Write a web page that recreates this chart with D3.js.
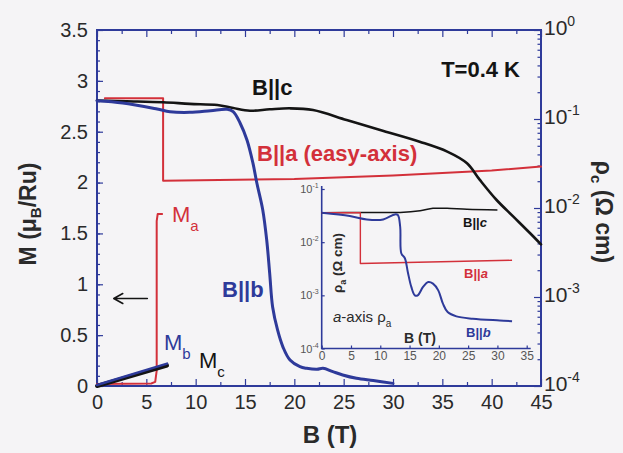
<!DOCTYPE html>
<html lang="en">
<head>
<meta charset="UTF-8">
<title>Magnetization and c-axis resistivity vs field</title>
<script src="https://cdnjs.cloudflare.com/ajax/libs/d3/7.8.5/d3.min.js"></script>
<style>
    body {
        margin: 0;
        background: #f5f4f6;
        font-family: Arial, "Liberation Sans", sans-serif;
        overflow: hidden;
    }
    svg { display: block; }
</style>
</head>
<body>
<svg id="chart" width="623" height="453"></svg>
<script>
// main panel: rho_c (Ohm cm) against B (T), right log axis
const rhoC_Bc = [[0,0.161],[3,0.158],[6.7,0.154],[9.4,0.148],[12.2,0.1435],[13.8,0.133],[15.5,0.124],
    [17.5,0.1285],[19.6,0.1318],[21.9,0.126],[25.3,0.0975],[28.7,0.0752],[32.7,0.0556],[35.5,0.043],
    [37.5,0.0318],[38.8,0.0207],[40.5,0.0123],[42.2,0.008],[43.9,0.0052],[45,0.0039]];
const rhoC_Ba = [[0.8,0.171],[6.7,0.171],[6.7,0.0203],[20,0.0212],[30,0.0232],[40,0.0264],[45,0.0292]];
const rhoC_Bb = [[0,0.1607],[2.6,0.1514],[6.1,0.1294],[7.4,0.1208],[9.4,0.1189],[11.5,0.1239],[13.2,0.1285],
    [13.8,0.1208],[14.5,0.0902],[15.2,0.0581],[15.8,0.0321],[16.2,0.0191],[16.8,0.00951],[17.2,0.00437],
    [17.5,0.00186],[17.8,0.000773],[18.3,0.000426],[18.85,0.000274],[19.56,0.000196],[20.57,0.000165],
    [21.25,0.000158],[22.3,0.000154],[22.9,0.000158],[23.9,0.000145],[24.9,0.000133],[26.3,0.000122],
    [28.0,0.000115],[30.0,0.000107]];

// magnetization (muB/Ru) against B (T), left axis
const magA = [[0,0.02],[5.5,0.025],[5.9,0.04],[6.05,0.15],[6.05,1.62],[6.15,1.69],[6.6,1.69]];
const magB = [[0,0.01],[7.1,0.22]];
const magC = [[0,0],[7.1,0.2]];

// inset: rho_a (Ohm cm) against B (T)
const rhoA_Bc = [[0,0.0357],[6.5,0.0363],[13.4,0.0363],[16.8,0.039],[19,0.0433],[21.4,0.0433],[24.8,0.0414],[30,0.0402]];
const rhoA_Ba = [[0,0.0357],[6.6,0.0357],[6.6,0.00396],[32.5,0.00457]];
const rhoA_Bb = [[0,0.0357],[4.8,0.031],[7.7,0.0268],[10.5,0.0268],[12.5,0.0333],[13.0,0.0324],[13.4,0.0195],
    [13.6,0.00612],[14.2,0.00499],[14.7,0.00275],[15.3,0.00144],[15.9,0.001],[16.4,0.001],[17.3,0.00144],
    [18.2,0.00178],[19.0,0.00166],[19.9,0.00124],[20.7,0.000697],[21.5,0.000484],[23.0,0.000402],
    [25.8,0.000363],[30.4,0.000337],[32.5,0.000327]];

// ticks
const bTicks = d3.range(0, 46, 5);
const mTicks = d3.range(0, 3.51, 0.5);
const rhoTicks = [1, 0.1, 0.01, 0.001, 0.0001];
const rhoExp = ["0", "-1", "-2", "-3", "-4"];
const insetBTicks = d3.range(0, 36, 5);
const insetRhoTicks = [0.1, 0.01, 0.001, 0.0001];
const insetRhoExp = ["-1", "-2", "-3", "-4"];

const blue = "#2e3a9a", red = "#d3303a", black = "#141414", grey = "#2a2a2a";

const svg = d3.select("#chart");
const box = { left: 97, top: 30, right: 541, bottom: 386 };

const x = d3.scaleLinear().domain([0, 45]).range([box.left, box.right]);
const yM = d3.scaleLinear().domain([0, 3.5]).range([box.bottom, box.top]);
const yR = d3.scaleLog().domain([1e-4, 1]).range([box.bottom, box.top]);

// minor tick helpers
function logMinor(lo, hi) {
    const out = [];
    for (let e = lo; e < hi; e++) for (let k = 2; k <= 9; k++) out.push(k * Math.pow(10, e));
    return out;
}

function styleAxis(g, color) {
    g.select(".domain").remove();
    g.selectAll(".tick line").attr("stroke", color).attr("stroke-width", 1.2);
}

// main axes ------------------------------------------------------------
svg.append("g").attr("transform", `translate(0,${box.bottom})`)
    .call(d3.axisBottom(x).tickValues(bTicks).tickSize(-7).tickPadding(9).tickSizeOuter(0))
    .call(g => styleAxis(g, blue))
    .call(g => g.selectAll("text").attr("font-size", 20).attr("fill", grey).attr("font-family", "Arial, sans-serif"));
svg.append("g").attr("transform", `translate(0,${box.bottom})`)
    .call(d3.axisBottom(x).tickValues(d3.range(2.5, 45, 5)).tickSize(-4).tickFormat(""))
    .call(g => styleAxis(g, blue));
svg.append("g").attr("transform", `translate(0,${box.top})`)
    .call(d3.axisTop(x).tickValues(bTicks).tickSize(-7).tickFormat(""))
    .call(g => styleAxis(g, blue));
svg.append("g").attr("transform", `translate(0,${box.top})`)
    .call(d3.axisTop(x).tickValues(d3.range(2.5, 45, 5)).tickSize(-4).tickFormat(""))
    .call(g => styleAxis(g, blue));

svg.append("g").attr("transform", `translate(${box.left},0)`)
    .call(d3.axisLeft(yM).tickValues(mTicks).tickSize(-6).tickPadding(9).tickFormat(d3.format("~g")))
    .call(g => styleAxis(g, blue))
    .call(g => g.selectAll("text").attr("font-size", 20).attr("fill", grey).attr("font-family", "Arial, sans-serif"));
svg.append("g").attr("transform", `translate(${box.left},0)`)
    .call(d3.axisLeft(yM).tickValues(d3.range(0.1, 3.5, 0.1)).tickSize(-3).tickFormat(""))
    .call(g => styleAxis(g, blue));

svg.append("g").attr("transform", `translate(${box.right},0)`)
    .call(d3.axisRight(yR).tickValues(rhoTicks).tickSize(-7).tickFormat(""))
    .call(g => styleAxis(g, blue));
svg.append("g").attr("transform", `translate(${box.right},0)`)
    .call(d3.axisRight(yR).tickValues(logMinor(-4, 0)).tickSize(-3.5).tickFormat(""))
    .call(g => styleAxis(g, blue));

const rLab = svg.append("g").selectAll("text").data(rhoTicks).join("text")
    .attr("x", box.right + 3).attr("y", d => yR(d) + 5)
    .attr("font-size", 21).attr("fill", grey);
rLab.append("tspan").text("10");
rLab.append("tspan").attr("dy", -9).attr("font-size", 14).text((d, i) => rhoExp[i]);

svg.append("rect")
    .attr("x", box.left).attr("y", box.top)
    .attr("width", box.right - box.left).attr("height", box.bottom - box.top)
    .attr("fill", "none").attr("stroke", blue).attr("stroke-width", 2);

// axis titles
svg.append("text").attr("x", 330).attr("y", 443).attr("text-anchor", "middle")
    .attr("font-size", 24).attr("font-weight", "bold").attr("fill", grey).text("B (T)");

const mTitle = svg.append("text").attr("transform", "translate(36,214) rotate(-90)")
    .attr("text-anchor", "middle").attr("font-size", 23).attr("font-weight", "bold").attr("fill", grey);
mTitle.append("tspan").text("M (\u03bc");
mTitle.append("tspan").attr("font-size", 15).attr("dy", 5).text("B");
mTitle.append("tspan").attr("dy", -5).text("/Ru)");

const rTitle = svg.append("text").attr("transform", "translate(596,212) rotate(90)")
    .attr("text-anchor", "middle").attr("font-size", 23).attr("font-weight", "bold").attr("fill", grey);
rTitle.append("tspan").text("\u03c1");
rTitle.append("tspan").attr("font-size", 15).attr("dy", 5).text("c");
rTitle.append("tspan").attr("dy", -5).text(" (\u03a9 cm)");

// curves -------------------------------------------------------------
const lineR = d3.line().x(d => x(d[0])).y(d => yR(d[1]));
const smoothR = d3.line().x(d => x(d[0])).y(d => yR(d[1])).curve(d3.curveCatmullRom.alpha(0.5));
const lineM = d3.line().x(d => x(d[0])).y(d => yM(d[1]));

const curves = svg.append("g").attr("fill", "none").attr("stroke-linejoin", "round").attr("stroke-linecap", "round");
curves.append("path").attr("d", lineR(rhoC_Ba)).attr("stroke", red).attr("stroke-width", 2);
curves.append("path").attr("d", smoothR(rhoC_Bc)).attr("stroke", black).attr("stroke-width", 2.6);
curves.append("path").attr("d", smoothR(rhoC_Bb)).attr("stroke", blue).attr("stroke-width", 3);
curves.append("path").attr("d", lineM(magA)).attr("stroke", red).attr("stroke-width", 2);
curves.append("path").attr("d", lineM(magC)).attr("stroke", black).attr("stroke-width", 4);
curves.append("path").attr("d", lineM(magB)).attr("stroke", blue).attr("stroke-width", 2.5);

// arrow pointing at the M axis
curves.append("path")
    .attr("d", `M${x(5.1)},${yM(0.86)}H${x(1.7)}M${x(1.7) + 9},${yM(0.86) - 5}L${x(1.7)},${yM(0.86)}L${x(1.7) + 9},${yM(0.86) + 5}`)
    .attr("stroke", black).attr("stroke-width", 1.6);

// labels
const lab = svg.append("g").attr("font-weight", "bold").attr("font-size", 22);
lab.append("text").attr("x", 252).attr("y", 95).attr("fill", black).text("B||c");
lab.append("text").attr("x", 257).attr("y", 161).attr("fill", red).text("B||a (easy-axis)");
lab.append("text").attr("x", 222).attr("y", 297).attr("fill", blue).text("B||b");
lab.append("text").attr("x", 520).attr("y", 77).attr("text-anchor", "end").attr("font-size", 22).attr("fill", black).text("T=0.4 K");

function subLabel(px, py, main, sub, color) {
    const t = svg.append("text").attr("x", px).attr("y", py).attr("fill", color).attr("font-size", 22);
    t.append("tspan").text(main);
    t.append("tspan").attr("dy", 9).attr("font-size", 15).text(sub);
}
subLabel(172, 222, "M", "a", red);
subLabel(164, 350, "M", "b", blue);
subLabel(199, 368, "M", "c", black);

// inset ------------------------------------------------------------------
const ib = { left: 321.7, top: 189, right: 526.7, bottom: 348.5 };
const x2 = d3.scaleLinear().domain([0, 35]).range([ib.left, ib.right]);
const y2 = d3.scaleLog().domain([1e-4, 1e-1]).range([ib.bottom, ib.top]);

const inset = svg.append("g");
inset.append("path").attr("d", `M${ib.left},${ib.top - 3}V${ib.bottom}H${ib.right + 4}`)
    .attr("fill", "none").attr("stroke", blue).attr("stroke-width", 1.6);

inset.append("g").attr("transform", `translate(0,${ib.bottom})`)
    .call(d3.axisBottom(x2).tickValues(insetBTicks).tickSize(-3).tickPadding(3))
    .call(g => styleAxis(g, blue))
    .call(g => g.selectAll("text").attr("font-size", 12).attr("fill", "#555").attr("font-family", "Arial, sans-serif"));
inset.append("g").attr("transform", `translate(${ib.left},0)`)
    .call(d3.axisLeft(y2).tickValues(insetRhoTicks).tickSize(-3).tickFormat(""))
    .call(g => styleAxis(g, blue));

const iLab = inset.append("g").selectAll("text").data(insetRhoTicks).join("text")
    .attr("x", ib.left - 3).attr("y", d => y2(d) + 4).attr("text-anchor", "end")
    .attr("font-size", 11).attr("fill", "#555");
iLab.append("tspan").text("10");
iLab.append("tspan").attr("dy", -5).attr("font-size", 7).text((d, i) => insetRhoExp[i]);

const lineI = d3.line().x(d => x2(d[0])).y(d => y2(d[1]));
const smoothI = d3.line().x(d => x2(d[0])).y(d => y2(d[1])).curve(d3.curveCatmullRom.alpha(0.5));
const ic = inset.append("g").attr("fill", "none").attr("stroke-linejoin", "round");
ic.append("path").attr("d", smoothI(rhoA_Bc)).attr("stroke", black).attr("stroke-width", 1.5);
ic.append("path").attr("d", lineI(rhoA_Ba)).attr("stroke", red).attr("stroke-width", 1.4);
ic.append("path").attr("d", smoothI(rhoA_Bb)).attr("stroke", blue).attr("stroke-width", 2);

function insetCurveLabel(px, py, letter, color) {
    const t = inset.append("text").attr("x", px).attr("y", py).attr("fill", color)
        .attr("font-size", 13).attr("font-weight", "bold");
    t.append("tspan").text("B||");
    t.append("tspan").attr("font-style", "italic").text(letter);
}
insetCurveLabel(463, 227, "c", black);
insetCurveLabel(464, 278, "a", red);
insetCurveLabel(466, 337, "b", blue);

const axisNote = inset.append("text").attr("x", 333).attr("y", 322).attr("font-size", 15).attr("fill", grey);
axisNote.append("tspan").attr("font-style", "italic").text("a");
axisNote.append("tspan").text("-axis \u03c1");
axisNote.append("tspan").attr("dy", 5).attr("font-size", 10).text("a");

inset.append("text").attr("x", 420).attr("y", 343).attr("text-anchor", "middle")
    .attr("font-size", 14).attr("font-weight", "bold").attr("fill", grey).text("B (T)");

const iTitle = inset.append("text").attr("transform", "translate(342,263) rotate(-90)")
    .attr("text-anchor", "middle").attr("font-size", 13.5).attr("font-weight", "bold").attr("fill", grey);
iTitle.append("tspan").text("\u03c1");
iTitle.append("tspan").attr("font-size", 9).attr("dy", 4).text("a");
iTitle.append("tspan").attr("dy", -4).text(" (\u03a9 cm)");
</script>
</body>
</html>
